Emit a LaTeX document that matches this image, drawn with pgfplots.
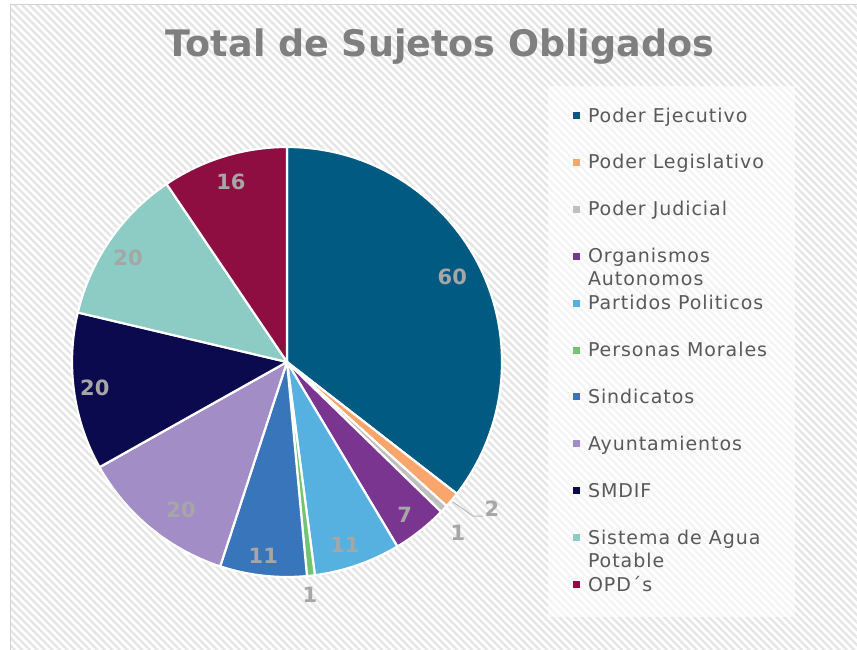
\documentclass[border=0pt]{standalone}
\usepackage{fontspec}
\setmainfont{DejaVu Sans}
\newfontfamily\legfont{DejaVu Sans}[LetterSpace=5]
\usepackage{pgfplots}
\usepackage{pgfplotstable}
\pgfplotsset{compat=1.18}
\usetikzlibrary{patterns.meta}

\definecolor{cPE}{HTML}{005A82}
\definecolor{cPL}{HTML}{F9A56B}
\definecolor{cPJ}{HTML}{BFBFBF}
\definecolor{cOA}{HTML}{7A3591}
\definecolor{cPP}{HTML}{56B1E0}
\definecolor{cPM}{HTML}{72C472}
\definecolor{cSI}{HTML}{3875BA}
\definecolor{cAY}{HTML}{A38DC6}
\definecolor{cSM}{HTML}{0C0A4E}
\definecolor{cSA}{HTML}{8DCBC5}
\definecolor{cOP}{HTML}{8E0E42}
\definecolor{titlegray}{HTML}{7F7F7F}
\definecolor{labgray}{HTML}{A6A6A6}
\definecolor{leggray}{HTML}{595959}

% value, colour, label radius, label angle offset
\pgfplotstableread{
val col lr la
60 cPE 186 1.2
2  cPL 252 4.4
1  cPJ 242 -1.9
7  cOA 193 -0.8
11 cPP 192 -1.6
1  cPM 234 -0.8
11 cSI 195 -0.6
20 cAY 182 3.8
20 cSM 194 -0.3
20 cSA 190 1.4
16 cOP 189 0.2
}\datatable

\begin{document}
\begin{tikzpicture}
\begin{axis}[
  width=857pt, height=650pt, scale only axis,
  xmin=0, xmax=857, ymin=0, ymax=650, y dir=reverse,
  axis lines=none, clip=false,
  legend cell align=left,
  legend image code/.code={%
    \fill[#1, draw=none] (0pt,3pt) rectangle (7pt,10pt);
    \path[draw=none, fill=none] (0pt,0pt) -- (15pt,0pt);},
  legend style={
    at={(axis cs:573,109)}, anchor=north west,
    draw=none, fill=none, inner sep=0pt, outer sep=0pt,
    row sep=33.9pt,
    font=\legfont\fontsize{19}{22}\selectfont, text=leggray,
    cells={anchor=base west},
    nodes={inner sep=0pt, outer sep=0pt, text height=13pt, text depth=0pt},
  },
]
% background
\fill[white] (axis cs:0,0) rectangle (axis cs:857,650);
\fill[pattern={Lines[angle=-45,distance=5.3pt,line width=2.3pt]}, pattern color=gray!20]
  (axis cs:10,5) rectangle (axis cs:857,650);
\draw[gray!35, line width=1pt] (axis cs:10,650) -- (axis cs:10,5) -- (axis cs:857,5);
% legend box
\fill[white, fill opacity=0.6] (axis cs:548,86) rectangle (axis cs:795,617);

% title
\node[anchor=base, font=\bfseries\fontsize{36.5}{40}\selectfont, text=titlegray]
  at (axis cs:440,57) {Total de Sujetos Obligados};

% pie
\pgfplotstablegetrowsof{\datatable}
\pgfmathtruncatemacro\N{\pgfplotsretval-1}
\def\total{0}
\pgfplotsforeachungrouped \i in {0,...,\N}{%
  \pgfplotstablegetelem{\i}{val}\of\datatable
  \pgfmathsetmacro\total{\total+\pgfplotsretval}%
}
\def\cum{0}
\pgfplotsforeachungrouped \i in {0,...,\N}{%
  \pgfplotstablegetelem{\i}{val}\of\datatable \let\vv\pgfplotsretval
  \pgfplotstablegetelem{\i}{col}\of\datatable \let\scol\pgfplotsretval
  \pgfplotstablegetelem{\i}{lr}\of\datatable \let\lrr\pgfplotsretval
  \pgfplotstablegetelem{\i}{la}\of\datatable \let\laa\pgfplotsretval
  \pgfmathsetmacro\sa{90-\cum/\total*360}%
  \pgfmathsetmacro\ea{90-(\cum+\vv)/\total*360}%
  \pgfmathsetmacro\ma{(\sa+\ea)/2+\laa}%
  \pgfmathtruncatemacro\vint{\vv}%
  \edef\temp{%
    \noexpand\fill[\scol, draw=white, line width=2.2pt, line join=round]
      (axis cs:287,362) -- ++(\sa:215pt) arc[start angle=\sa, end angle=\ea, radius=215pt] -- cycle;
  }\temp
  \edef\temp{%
    \noexpand\node[font=\noexpand\bfseries\noexpand\fontsize{21}{24}\noexpand\selectfont, text=labgray]
      at ([shift={(\ma:\lrr pt)}]axis cs:287,362) {\vint};
  }\temp
  \pgfmathsetmacro\cum{\cum+\vv}%
}
% leader line for the label 2
\draw[gray!55, line width=1pt] (axis cs:453,502) -- (axis cs:473,516) -- (axis cs:483,516);

\addlegendimage{cPE}\addlegendentry{Poder Ejecutivo}
\addlegendimage{cPL}\addlegendentry{Poder Legislativo}
\addlegendimage{cPJ}\addlegendentry{Poder Judicial}
\addlegendimage{cOA}\addlegendentry{\smash{\rlap{\raisebox{-23pt}{Autonomos}}}Organismos}
\addlegendimage{cPP}\addlegendentry{Partidos Politicos}
\addlegendimage{cPM}\addlegendentry{Personas Morales}
\addlegendimage{cSI}\addlegendentry{Sindicatos}
\addlegendimage{cAY}\addlegendentry{Ayuntamientos}
\addlegendimage{cSM}\addlegendentry{SMDIF}
\addlegendimage{cSA}\addlegendentry{\smash{\rlap{\raisebox{-23pt}{Potable}}}Sistema de Agua}
\addlegendimage{cOP}\addlegendentry{OPD´s}
\end{axis}
\pgfresetboundingbox
\path (0,0) rectangle (857pt,650pt);
\end{tikzpicture}
\end{document}
